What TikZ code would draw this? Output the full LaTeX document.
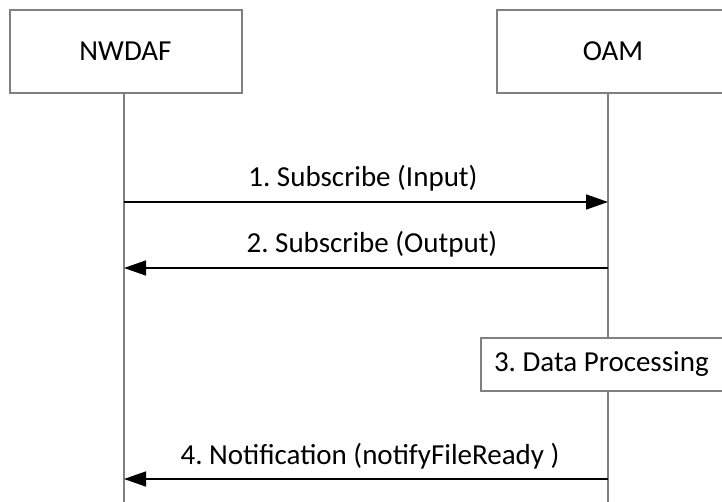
\documentclass[tikz,border=0pt]{standalone}
\usepackage{fontspec}
\setmainfont{Carlito}
\frenchspacing
\usetikzlibrary{arrows.meta}
\definecolor{lgray}{RGB}{128,128,128}
\tikzset{
  entity/.style={draw=lgray, line width=2pt, fill=white, minimum height=83pt, inner sep=0pt},
  lifeline/.style={draw=lgray, line width=2pt},
  msg/.style={draw=black, line width=1.6pt, -{Triangle[length=22pt,width=15pt]}},
  lbl/.style={anchor=base, inner sep=0pt},
  procbox/.style={draw=lgray, line width=2pt, fill=white, minimum height=53pt, text width=234pt, inner xsep=13pt, inner ysep=0pt, align=flush left, anchor=west}
}
\begin{document}
\begin{tikzpicture}[x=1pt,y=-1pt,font=\fontsize{29}{34}\selectfont\frenchspacing]
\useasboundingbox (0,0) rectangle (722,502);
% lifeline coordinates
\coordinate (ntop) at (124,93);
\coordinate (nbot) at (124,502);
\coordinate (otop) at (608,93);
\coordinate (obot) at (608,502);
\draw[lifeline] (ntop) -- (nbot);
\draw[lifeline] (otop) -- (obot);
% entities
\node[entity, minimum width=232pt] (nwdaf) at (125.5,51.5) {NWDAF};
\node[entity, minimum width=232pt, anchor=west] (oam) at (496,51.5) {OAM};
% messages
\coordinate (n1) at (124,202); \coordinate (o1) at (608,202);
\coordinate (n2) at (124,268); \coordinate (o2) at (608,268);
\coordinate (n4) at (124,479); \coordinate (o4) at (608,479);
\draw[msg] (n1) -- (o1);
\node[lbl] (l1) at (363,187) {1. Subscribe (Input)};
\draw[msg] (o2) -- (n2);
\node[lbl] (l2) at (372,253) {2. Subscribe (Output)};
\node[procbox] (proc) at (480,364.5) {3. Data Processing};
\draw[msg] (o4) -- (n4);
\node[lbl] (l4) at (370,464) {4. Notification (notifyFileReady )};
\end{tikzpicture}
\end{document}
